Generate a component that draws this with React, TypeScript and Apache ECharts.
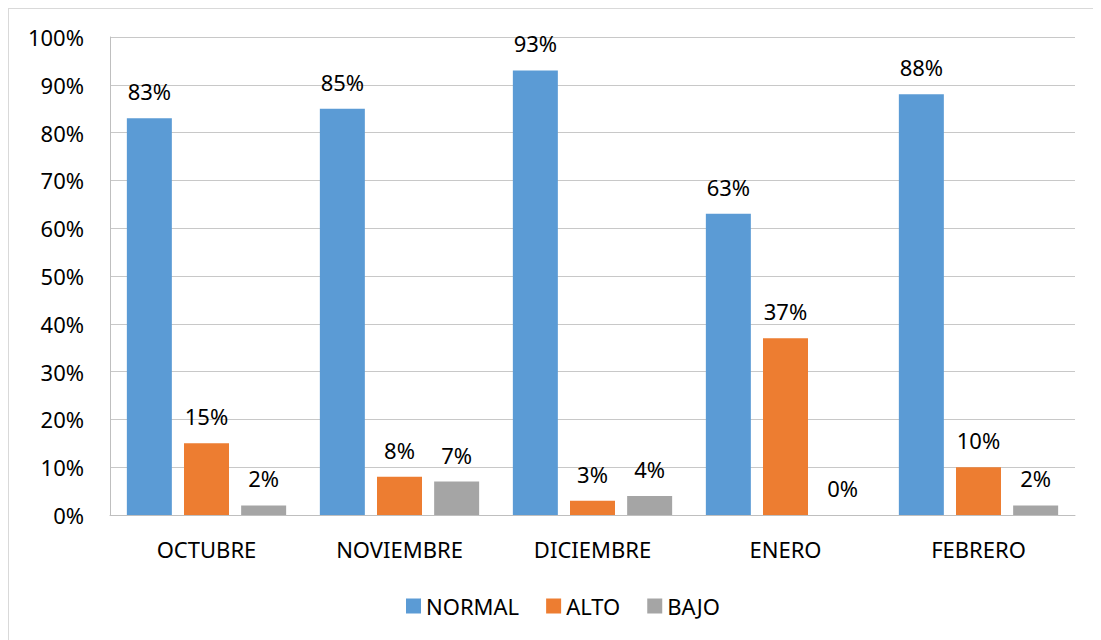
import React, { useEffect, useRef } from "react";
import * as echarts from "echarts";

const categories = ["OCTUBRE", "NOVIEMBRE", "DICIEMBRE", "ENERO", "FEBRERO"];
const normalValues = [83, 85, 93, 63, 88];
const altoValues = [15, 8, 3, 37, 10];
const bajoValues = [2, 7, 4, 0, 2];
const seriesNames = ["NORMAL", "ALTO", "BAJO"];
const colors = ["#5B9BD5", "#ED7D31", "#A5A5A5"];

const FONT = "'Noto Sans', 'Open Sans', sans-serif";
const FS = 22;

export default function App() {
  const ref = useRef<HTMLDivElement>(null);
  useEffect(() => {
    if (!ref.current) return;
    const chart = echarts.init(ref.current, undefined, { renderer: "svg" });
    const label = {
      show: true,
      position: "top",
      distance: 16,
      formatter: "{c}%",
      fontFamily: FONT,
      fontSize: FS,
      color: "#000",
    };
    const data = [normalValues, altoValues, bajoValues];
    chart.setOption({
      animation: false,
      grid: { left: 102, right: 26, top: 29, bottom: 125, containLabel: false },
      legend: {
        data: seriesNames,
        left: 393,
        top: 582,
        itemWidth: 15,
        itemHeight: 15,
        itemGap: 27,
        icon: "rect",
        textStyle: { fontFamily: FONT, fontSize: FS, color: "#000", padding: [0, 0, 0, 0] },
      },
      xAxis: {
        type: "category",
        data: categories,
        axisLine: { lineStyle: { color: "#bfbfbf", width: 1 } },
        axisTick: { show: false },
        axisLabel: { fontFamily: FONT, fontSize: FS, color: "#000", margin: 23 },
      },
      yAxis: {
        type: "value",
        min: 0,
        max: 100,
        interval: 10,
        axisLine: { show: true, lineStyle: { color: "#bfbfbf", width: 1 } },
        axisTick: { show: false },
        splitLine: { lineStyle: { color: "#c8c8c8", width: 1 } },
        axisLabel: { fontFamily: FONT, fontSize: FS, color: "#000", margin: 26, formatter: "{value}%" },
      },
      series: seriesNames.map((name, i) => ({
        name,
        type: "bar",
        data: data[i],
        barWidth: 45,
        barGap: "27%",
        itemStyle: { color: colors[i] },
        label,
      })),
    });
    return () => chart.dispose();
  }, []);
  return (
    <div
      style={{
        width: 1093,
        height: 632,
        borderTop: "1px solid #d9d9d9",
        borderLeft: "1px solid #d9d9d9",
        boxSizing: "border-box",
        overflow: "hidden",
        position: "relative",
      }}
    >
      <div ref={ref} style={{ width: 1093, height: 632, position: "absolute", left: -1, top: -1 }} />
    </div>
  );
}
